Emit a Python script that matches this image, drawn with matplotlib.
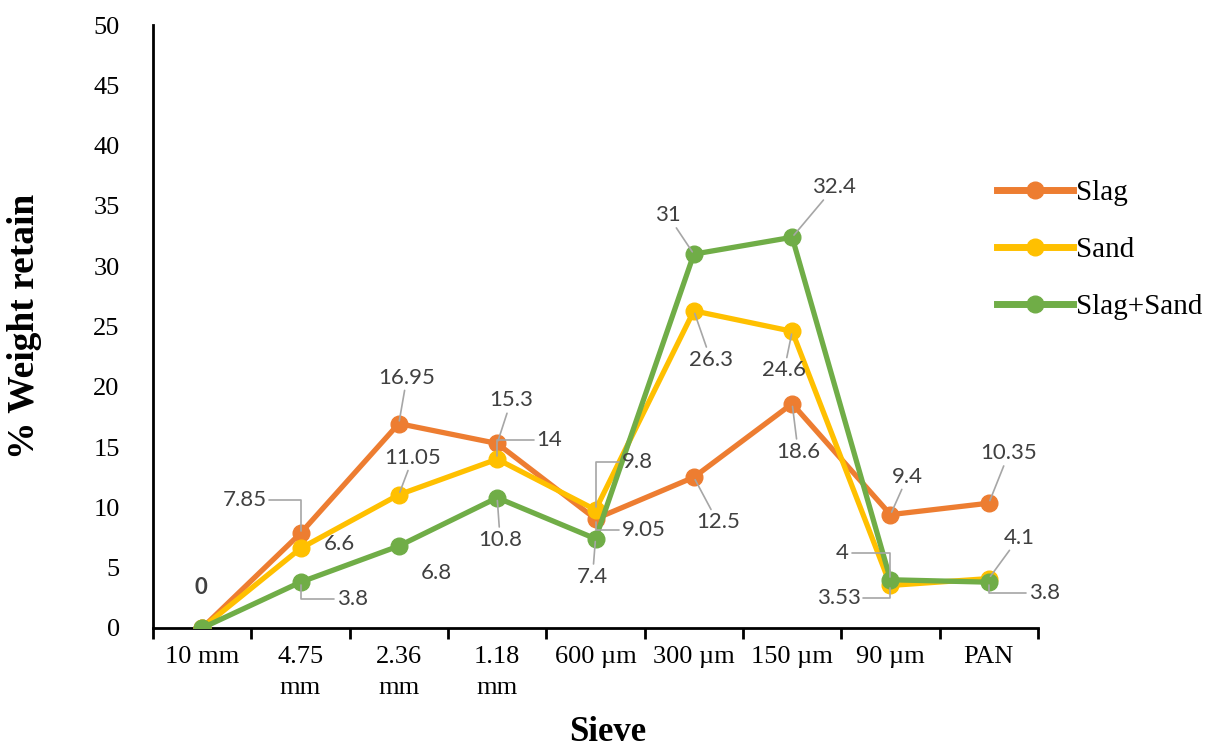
import matplotlib
matplotlib.use('Agg')
import matplotlib.pyplot as plt
from matplotlib.font_manager import FontProperties
import numpy as np

sieves = ['10 mm', '4.75\nmm', '2.36\nmm', '1.18\nmm', '600 µm', '300 µm', '150 µm', '90 µm', 'PAN']
series_names = ['Slag', 'Sand', 'Slag+Sand']
slag = [0, 7.85, 16.95, 15.3, 9.05, 12.5, 18.6, 9.4, 10.35]
sand = [0, 6.6, 11.05, 14, 9.8, 26.3, 24.6, 3.53, 4.1]
slag_sand = [0, 3.8, 6.8, 10.8, 7.4, 31, 32.4, 4, 3.8]
yticks = list(range(0, 55, 5))

colors = ['#ED7D31', '#FFC000', '#70AD47']

# label offsets (pixels, relative to the point) and leader style per label
# None -> no label; style: '' no leader, 's' straight, 'a' elbow
slag_lab = [(-1, 40, ''), (-56, 33, 'a'), (8, 46, 's'), (14, 43, 's'), (48, -11, 'a'),
            (24, -45, 's'), (6, -48, 's'), (17, 38, 's'), (20, 50, 's')]
sand_lab = [None, (39, 4, ''), (14, 37, 's'), (52, 19, 'a'), (42, 48, 'a'),
            (17, -49, 's'), (-8, -39, 's'), (-52, -13, 'a'), (30, 41, 's')]
mix_lab = [None, (52, -17, 'a'), (38, -27, ''), (3, -42, 's'), (-3, -38, 's'),
           (-26, 39, 's'), (42, 50, 's'), (-48, 27, 'a'), (56, -11, 'a')]

fig = plt.figure(figsize=(12.23, 7.49), dpi=100)
ax = fig.add_axes([153/1223, 1-628/749, 885/1223, 603/749])

x = np.arange(len(sieves))
all_vals = [slag, sand, slag_sand]
all_labs = [slag_lab, sand_lab, mix_lab]
for name, vals, col in zip(series_names, all_vals, colors):
    ax.plot(x, vals, color=col, lw=3.8, marker='o', ms=12, label=name, zorder=3)

lab_font = ['Lato', 'DejaVu Sans']
for vals, labs in zip(all_vals, all_labs):
    for i, (v, lab) in enumerate(zip(vals, labs)):
        if lab is None:
            continue
        dx, dy, st = lab
        txt = f'{v:g}'
        kw = dict(xy=(i, v), xytext=(dx, dy), textcoords='offset pixels',
                  ha='center', va='center', fontsize=16, family=lab_font,
                  color='#404040', zorder=5)
        if i == 0:
            kw['fontweight'] = 'bold'
        if st == 's':
            kw['arrowprops'] = dict(arrowstyle='-', color='#A6A6A6', lw=1.2,
                                    shrinkA=0, shrinkB=2)
        elif st == 'a':
            kw['arrowprops'] = dict(arrowstyle='-', color='#A6A6A6', lw=1.2,
                                    shrinkA=0, shrinkB=2,
                                    connectionstyle='angle,angleA=0,angleB=90,rad=0')
        ax.annotate(txt, **kw)

ax.set_xlim(-0.5, len(sieves) - 0.5)
ax.set_ylim(0, 50)
ax.set_xticks(x)
ax.set_xticklabels(sieves, family='Liberation Serif', fontsize=19, linespacing=1.5,
                   va='top')
ax.set_xticks(np.arange(len(sieves) + 1) - 0.5, minor=True)
ax.tick_params(axis='x', which='major', length=0, pad=13)
ax.tick_params(axis='x', which='minor', length=8, width=2, direction='out')
ax.set_yticks(yticks)
ax.set_yticklabels([str(t) for t in yticks], family='Liberation Serif', fontsize=19)
ax.tick_params(axis='y', length=0, pad=24)

for s in ['top', 'right']:
    ax.spines[s].set_visible(False)
for s in ['left', 'bottom']:
    ax.spines[s].set_linewidth(2)

ax.set_ylabel('% Weight retain', family='Liberation Serif', fontsize=27, fontweight='bold')
ax.yaxis.set_label_coords(-0.125, 0.5)
ax.set_xlabel('Sieve', family='Liberation Serif', fontsize=25, fontweight='bold')
ax.xaxis.set_label_coords(0.514, -0.146)

leg_font = FontProperties(family='Liberation Serif', size=21)
leg = ax.legend(loc='upper left', bbox_to_anchor=(0.794, 0.795),
                bbox_transform=fig.transFigure, frameon=False, prop=leg_font,
                handlelength=2.6, handletextpad=0.1, labelspacing=1.05)
for h in leg.legend_handles:
    h.set_linewidth(5)

fig.savefig('out.png', dpi=100, facecolor='white')
